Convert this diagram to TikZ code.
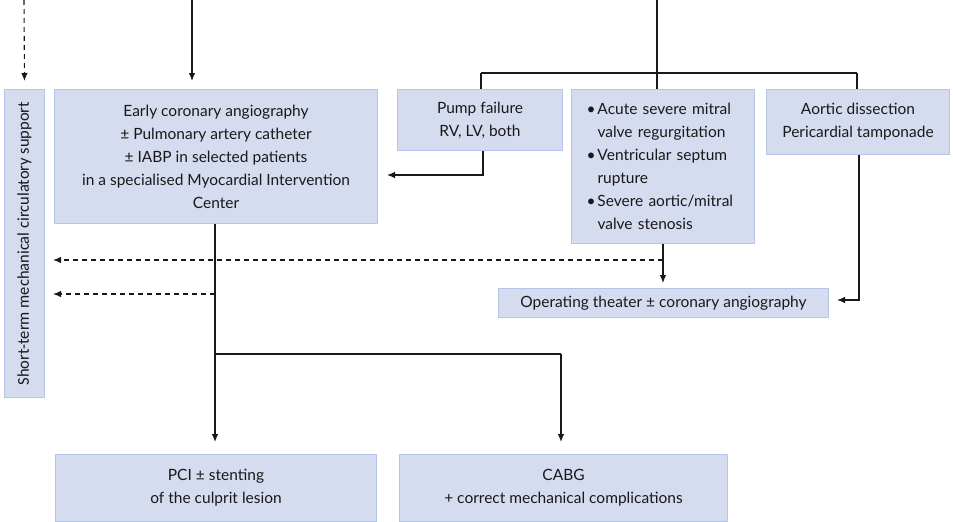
\documentclass[tikz,border=0pt]{standalone}
\usepackage{fontspec}
\setmainfont{Lato}
\newfontfamily\sidefont{Carlito}
\usetikzlibrary{arrows.meta}
\definecolor{boxfill}{RGB}{214,220,240}
\definecolor{boxline}{RGB}{182,196,232}
\definecolor{ink}{RGB}{25,25,25}
\newcommand{\itemmark}{\makebox[11pt][l]{\textbullet}}
\newcommand{\itemgap}{\hspace*{11pt}}
\begin{document}
\begin{tikzpicture}[x=1pt,y=-1pt,
  box/.style={draw=boxline,fill=boxfill,line width=1pt,inner sep=0pt,
    anchor=north west,font=\fontsize{15.5}{23}\selectfont,text=ink,align=center},
  conn/.style={draw=ink,line width=1.1pt},
  arr/.style={conn,-{Latex[length=8pt,width=6.5pt]}},
  dasharr/.style={arr,dash pattern=on 5pt off 4pt}]
\useasboundingbox (0,0) rectangle (953,522);

% boxes
\node[box,minimum width=40pt,minimum height=308pt] (side) at (4,89) {};
\node[rotate=90,font=\sidefont\fontsize{16.5}{19}\selectfont,text=ink] (sidetext) at (side.center)
  {Short-term mechanical circulatory support};
\node[box,minimum width=323pt,minimum height=134pt] (early) at (54,89)
  {Early coronary angiography\\ ± Pulmonary artery catheter\\ ± IABP in selected patients\\
   in a specialised Myocardial Intervention\\ Center};
\node[box,minimum width=165pt,minimum height=61pt] (pump) at (397,89)
  {Pump failure\\ RV, LV, both};
\node[box,minimum height=154pt,align=left,inner xsep=15pt,text width=153pt] (mech) at (571,89)
  {\itemmark Acute severe mitral\\ \itemgap valve regurgitation\\
   \itemmark Ventricular septum\\ \itemgap rupture\\
   \itemmark Severe aortic/mitral\\ \itemgap valve stenosis};
\node[box,minimum width=183pt,minimum height=65pt] (aortic) at (766,89)
  {Aortic dissection\\ Pericardial tamponade};
\node[box,minimum width=330pt,minimum height=29pt] (theater) at (498,288)
  {Operating theater ± coronary angiography};
\node[box,minimum width=321pt,minimum height=67pt] (pci) at (55,454)
  {PCI ± stenting\\ of the culprit lesion};
\node[box,minimum width=328pt,minimum height=67pt] (cabg) at (399,454)
  {CABG\\ + correct mechanical complications};

% junction points
\coordinate (sideIn) at (24,0);
\coordinate (earlyIn) at (192,0);
\coordinate (trunk) at (657,0);
\coordinate (split) at (657,73);
\coordinate (splitL) at (481,73);
\coordinate (splitR) at (857,73);
\coordinate (pumpBend) at (483,175);
\coordinate (aorticBend) at (859,300);
\coordinate (mechOut) at (663,260);
\coordinate (earlyDash) at (215,294);
\coordinate (earlyFork) at (215,354);
\coordinate (cabgFork) at (561,354);

% incoming arrows from above
\draw[dasharr,shorten >=8pt] (sideIn) -- (side.north);
\draw[arr,shorten >=8pt] (earlyIn) -- (earlyIn |- early.north);

% branching to the complication boxes
\draw[conn] (trunk) -- (split);
\draw[conn] (splitL) -- (splitR);
\draw[conn] (splitL) -- (splitL |- pump.north);
\draw[conn] (split) -- (split |- mech.north);
\draw[conn] (splitR) -- (splitR |- aortic.north);

% pump failure back to angiography
\draw[arr,shorten >=9pt] (pumpBend |- pump.south) -- (pumpBend) -- (pumpBend -| early.east);

% mechanical complications to the operating theater
\draw[arr,shorten >=5pt] (mechOut |- mech.south) -- (mechOut |- theater.north);
\draw[dasharr,shorten >=8pt] (mechOut) -- (mechOut -| side.east);

% dissection / tamponade to the operating theater
\draw[arr,shorten >=8pt] (aorticBend |- aortic.south) -- (aorticBend) -- (aorticBend -| theater.east);

% from angiography to revascularisation
\draw[arr,shorten >=12pt] (earlyFork |- early.south) -- (earlyFork |- pci.north);
\draw[dasharr,shorten >=8pt] (earlyDash) -- (earlyDash -| side.east);
\draw[conn] (earlyFork) -- (cabgFork);
\draw[arr,shorten >=12pt] (cabgFork) -- (cabgFork |- cabg.north);
\end{tikzpicture}
\end{document}
